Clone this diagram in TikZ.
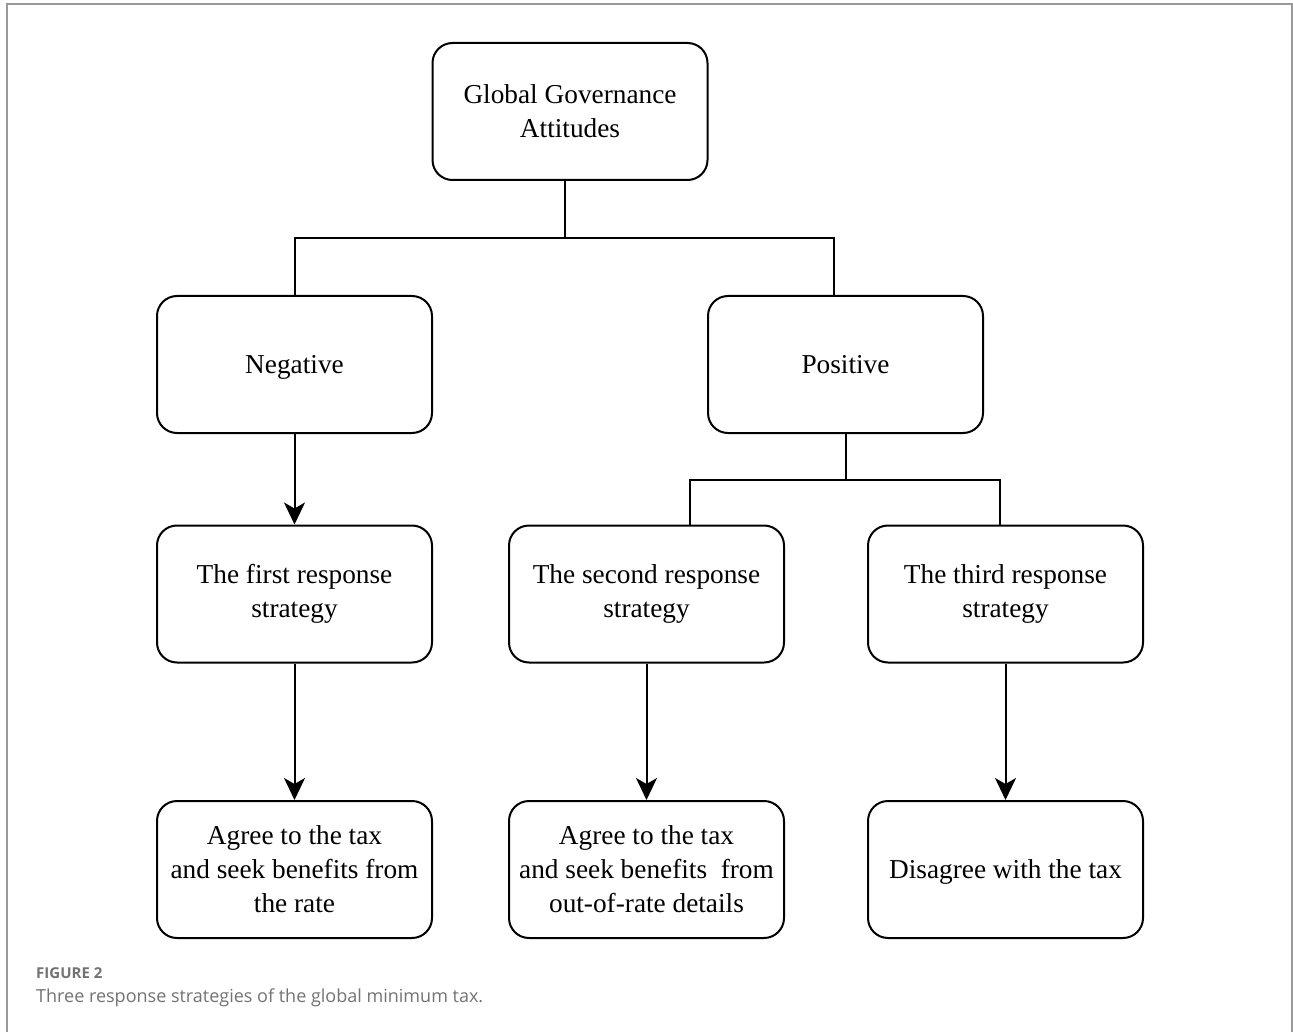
\documentclass[tikz,border=0pt]{standalone}
\usepackage{fontspec}
\setmainfont{Liberation Serif}
\newfontfamily\capfont{Open Sans}
\usetikzlibrary{arrows.meta,calc}
\begin{document}
\begin{tikzpicture}[x=1pt,y=-1pt,
 box/.style={draw=black,line width=2pt,rounded corners=20pt,minimum width=275pt,minimum height=137pt,align=center,inner sep=0pt,font=\fontsize{27.3}{34}\selectfont},
 onelinebox/.style={box,text height=18pt,text depth=0pt},
 conn/.style={line width=2pt},
 arr/.style={line width=2pt,-{Stealth[length=22pt,width=21pt,inset=6pt]}},
 capstyle/.style={anchor=base west,inner sep=0pt,text=black!55}]
\useasboundingbox (0,0) rectangle (1293,1032);
\fill[white] (0,0) rectangle (1293,1032);
\draw[black!40, line width=1.5pt] (7,1032) -- (7,4) -- (1292,4) -- (1292,1032);

\node[box] (top) at (570,111.5) {Global Governance\\Attitudes};
\node[onelinebox] (neg) at (294.5,364.5) {Negative};
\node[onelinebox] (pos) at (845.5,364.5) {Positive};
\node[box] (s1) at (294.5,594) {The first response\\strategy};
\node[box] (s2) at (646.5,594) {The second response\\strategy};
\node[box] (s3) at (1005.5,594) {The third response\\strategy};
\node[box] (r1) at (294.5,869.5) {Agree to the tax\\and seek benefits from\\the rate};
\node[box] (r2) at (646.5,869.5) {Agree to the tax\\and seek benefits\ \ from\\out-of-rate details};
\node[onelinebox] (r3) at (1005.5,869.5) {Disagree with the tax};

\coordinate (j1) at (565,238);
\draw[conn] (top.south -| j1) -- (j1);
\draw[conn] (neg.north) |- (j1) -| ([xshift=-11.5pt]pos.north);
\coordinate (j2) at (845.5,480);
\draw[conn] (pos.south) -- (j2);
\draw[conn] ([xshift=43.5pt]s2.north) |- (j2) -| ([xshift=-5.5pt]s3.north);

\draw[arr] (neg) -- (s1);
\draw[arr] (s1) -- (r1);
\draw[arr] (s2) -- (r2);
\draw[arr] (s3) -- (r3);

\node[capstyle,font=\capfont\bfseries\fontsize{15}{18}\selectfont] (fig) at (36,978) {FIGURE 2};
\node[capstyle,font=\capfont\fontsize{18}{21}\selectfont] (cap) at (36,1002) {Three response strategies of the global minimum tax.};
\end{tikzpicture}
\end{document}
